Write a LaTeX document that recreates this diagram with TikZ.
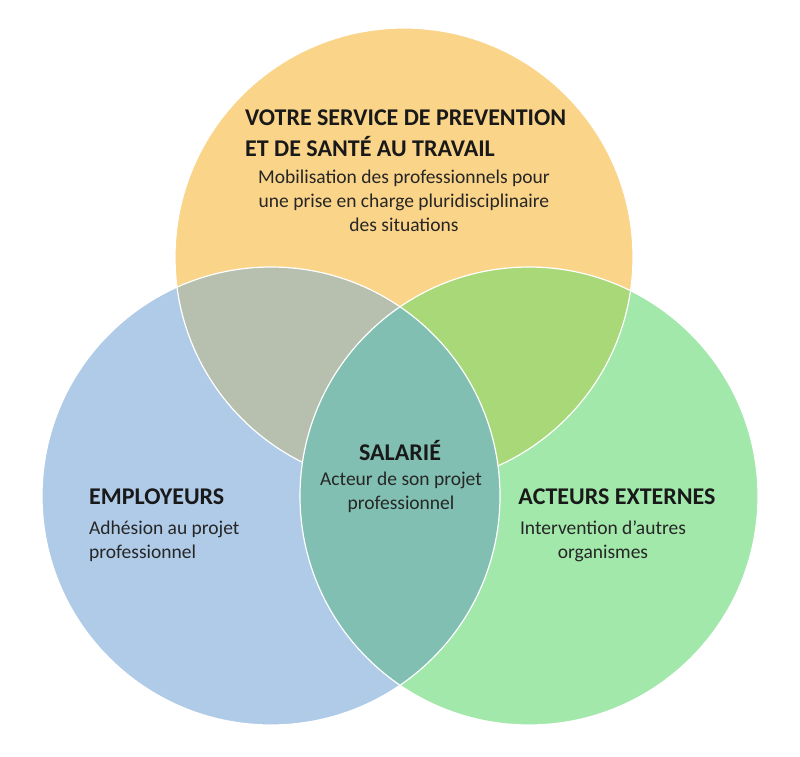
\documentclass[tikz,border=0pt]{standalone}
\usepackage{fontspec}
\setmainfont{Carlito}
\definecolor{cTop}{HTML}{FAD488}
\definecolor{cLeft}{HTML}{B0CBE8}
\definecolor{cRight}{HTML}{A2E8AA}
\definecolor{cTL}{HTML}{B7C0AF}
\definecolor{cTR}{HTML}{A8D878}
\definecolor{cMid}{HTML}{80BFB1}
\tikzset{ttl/.style={font=\fontsize{24}{28}\selectfont\bfseries, text=black!90, inner sep=0pt},
 bdy/.style={font=\fontsize{19.5}{24}\selectfont, text=black!85, inner sep=0pt, align=center},
 ring/.style={draw=white, line width=1.2pt}}
\begin{document}
\begin{tikzpicture}[x=1pt,y=-1pt]
\useasboundingbox (0,0) rectangle (800,756);
\def\R{229}
\coordinate (T) at (404,257);
\coordinate (L) at (271,496);
\coordinate (Rc) at (529,496);
\fill[cTop] (T) circle (\R);
\fill[cLeft] (L) circle (\R);
\fill[cRight] (Rc) circle (\R);
\begin{scope}\clip (T) circle (\R); \fill[cTL] (L) circle (\R); \fill[cTR] (Rc) circle (\R);\end{scope}
\draw[ring] (T) circle (\R);
\begin{scope}\clip (L) circle (\R); \fill[cMid] (Rc) circle (\R);\end{scope}
\draw[ring] (L) circle (\R); \draw[ring] (Rc) circle (\R);
\node[ttl, anchor=west] (t1) at (245,118) {VOTRE SERVICE DE PREVENTION};
\node[ttl, anchor=west] (t2) at (245,147) {ET DE SANTÉ AU TRAVAIL};
\node[bdy, anchor=north] (t3) at (404,170) {Mobilisation des professionnels pour\\une prise en charge pluridisciplinaire\\des situations};
\node[ttl] (s1) at (400,450) {SALARIÉ};
\node[bdy, anchor=north] (s2) at (401,472) {Acteur de son projet\\professionnel};
\node[ttl, anchor=west] (e1) at (89,497) {EMPLOYEURS};
\node[bdy, anchor=north west, align=left] (e2) at (89,521) {Adhésion au projet\\professionnel};
\node[ttl] (a1) at (617,497) {ACTEURS EXTERNES};
\node[bdy, anchor=north] (a2) at (603,521) {Intervention d’autres\\organismes};
\end{tikzpicture}
\end{document}
